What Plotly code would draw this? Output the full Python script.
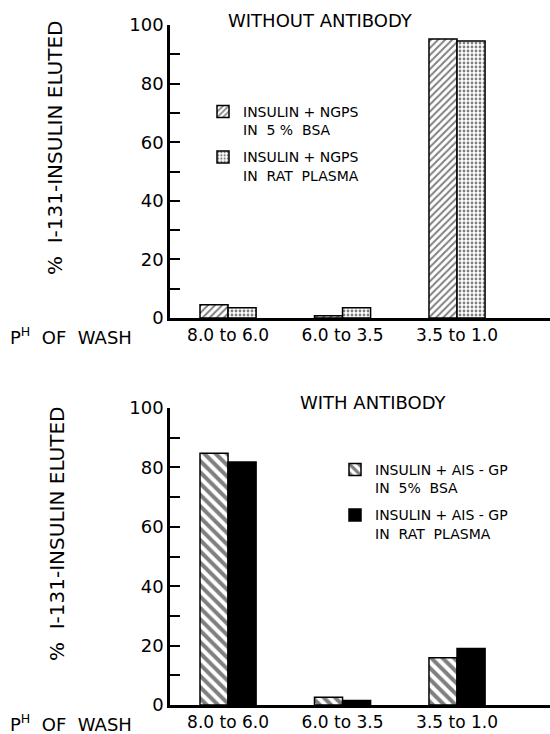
import plotly.graph_objects as go
from plotly.subplots import make_subplots

# ---- data ----
categories = ["8.0 to 6.0", "6.0 to 3.5", "3.5 to 1.0"]
x_pos = [0, 1, 2]

top_bsa = [4.5, 0.8, 95.2]
top_plasma = [3.5, 3.5, 94.5]
top_names = ["INSULIN + NGPS<br>IN  5 %  BSA", "INSULIN + NGPS<br>IN  RAT  PLASMA"]

bot_bsa = [84.8, 2.6, 15.9]
bot_plasma = [81.8, 1.5, 19.0]
bot_names = ["INSULIN + AIS - GP<br>IN  5%  BSA", "INSULIN + AIS - GP<br>IN  RAT  PLASMA"]

y_ticks = [0, 20, 40, 60, 80, 100]

FONT = "DejaVu Sans"

fig = make_subplots(rows=2, cols=1)

line = dict(color="black", width=1.5)

fig.add_trace(go.Bar(x=x_pos, y=top_bsa, name=top_names[0], legend="legend", legendgroup="a",
                     marker=dict(color="white", line=line,
                                 pattern=dict(shape="/", fgcolor="black", bgcolor="white", size=5, solidity=0.4))),
              row=1, col=1)
fig.add_trace(go.Bar(x=x_pos, y=top_plasma, name=top_names[1], legend="legend", legendgroup="b",
                     marker=dict(color="white", line=line,
                                 pattern=dict(shape=".", fgcolor="black", bgcolor="white", size=4, solidity=0.38))),
              row=1, col=1)
fig.add_trace(go.Bar(x=x_pos, y=bot_bsa, name=bot_names[0], legend="legend2", legendgroup="c",
                     marker=dict(color="white", line=line,
                                 pattern=dict(shape="\\", fgcolor="black", bgcolor="white", size=8, solidity=0.5))),
              row=2, col=1)
fig.add_trace(go.Bar(x=x_pos, y=bot_plasma, name=bot_names[1], legend="legend2", legendgroup="d",
                     marker=dict(color="black", line=line)),
              row=2, col=1)

W, H = 550, 734
ml, mr, mt, mb = 170, 0, 25, 29
ph = H - mt - mb
pw = W - ml - mr

def py(p):  # pixel y -> paper y
    return (H - mb - p) / ph

def px(p):  # pixel x -> paper x
    return (p - ml) / pw

xaxis_common = dict(
    tickmode="array", tickvals=x_pos, ticktext=categories,
    range=[-0.507, 2.812], showline=True, linecolor="black", linewidth=2.5,
    ticks="", showgrid=False, zeroline=False,
    tickfont=dict(size=17, color="black", family=FONT),
)
yaxis_common = dict(
    range=[0, 100], tickmode="array", tickvals=y_ticks,
    showline=True, linecolor="black", linewidth=2.5,
    ticks="inside", ticklen=10, tickwidth=2, tickcolor="black",
    minor=dict(dtick=10, ticks="inside", ticklen=10, tickwidth=2, tickcolor="black"),
    showgrid=False, zeroline=False,
    tickfont=dict(size=18, color="black", family=FONT),
    ticklabelstandoff=0,
)

fig.update_xaxes(**xaxis_common)
fig.update_yaxes(**yaxis_common)
fig.update_layout(
    yaxis=dict(domain=[py(318), 1.0]),
    yaxis2=dict(domain=[0.0, py(408)]),
)

def ann(text, x, y, size, angle=0, xanchor="center"):
    return dict(text=text, x=px(x), y=py(y), xref="paper", yref="paper",
                xanchor=xanchor, yanchor="middle", textangle=angle,
                showarrow=False, font=dict(size=size, family=FONT, color="black"))

annotations = [
    ann("WITHOUT ANTIBODY", 320, 20, 18),
    ann("WITH ANTIBODY", 373, 402, 18),
    ann("%  I-131-INSULIN ELUTED", 55, 148, 20, angle=-90),
    ann("%  I-131-INSULIN ELUTED", 57, 534, 20, angle=-90),
    ann("P<sup>H</sup>  OF  WASH", 8, 336, 18, xanchor="left"),
    ann("P<sup>H</sup>  OF  WASH", 8, 723, 18, xanchor="left"),
]

legend_common = dict(
    xanchor="left", yanchor="top", valign="top", traceorder="grouped",
    tracegroupgap=6, bgcolor="rgba(0,0,0,0)", itemwidth=30,
    font=dict(size=14, family=FONT, color="black"),
)

fig.update_layout(
    width=W, height=H,
    margin=dict(l=ml, r=mr, t=mt, b=mb),
    paper_bgcolor="white", plot_bgcolor="white",
    barmode="group", bargap=0.51, bargroupgap=0,
    showlegend=True,
    legend=dict(x=px(203), y=py(96), **legend_common),
    legend2=dict(x=px(335), y=py(454), **legend_common),
    annotations=annotations,
    font=dict(family=FONT, color="black"),
)

fig.write_html("out.html")
